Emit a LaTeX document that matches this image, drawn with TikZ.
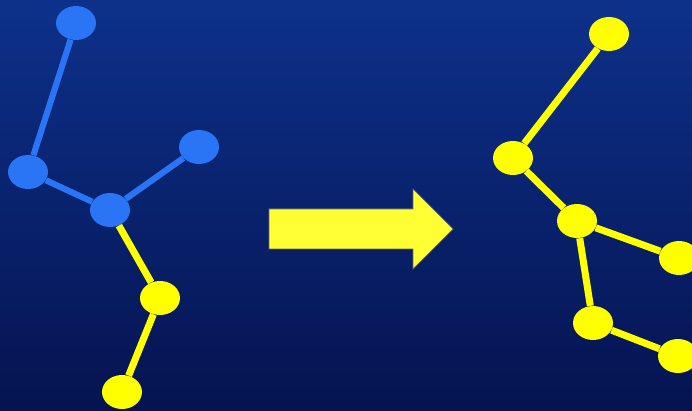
\documentclass[tikz,border=0pt]{standalone}
\usepackage{xcolor}
\usepackage{tikz}
\usetikzlibrary{shapes.geometric, arrows, positioning}
\definecolor{bgtop}{RGB}{13,49,138}
\definecolor{bgbot}{RGB}{5,19,80}
\definecolor{atomblue}{RGB}{42,116,246}
\definecolor{atomyellow}{RGB}{255,255,0}
\definecolor{arrowyellow}{RGB}{255,255,51}
\tikzstyle{blueatom} = [ellipse, minimum width=0.8cm, minimum height=0.68cm, inner sep=0pt, fill=atomblue]
\tikzstyle{yellowatom} = [ellipse, minimum width=0.8cm, minimum height=0.68cm, inner sep=0pt, fill=atomyellow]
\tikzstyle{bluebond} = [line width=3.5pt, draw=atomblue]
\tikzstyle{yellowbond} = [line width=4pt, draw=atomyellow]
\tikzstyle{bigarrow} = [fill=arrowyellow, draw=black!60, line width=0.4pt]

\begin{document}
\begin{tikzpicture}[x=0.02cm, y=-0.02cm]
            % background
            \shade[top color=bgtop, bottom color=bgbot] (0,0) rectangle (692,411);
            \useasboundingbox (0,0) rectangle (692,411);

            % left molecule
            \node[blueatom] (l1) at (76,23) {};
            \node[blueatom] (l2) at (28,172) {};
            \node[blueatom] (l3) at (110,210) {};
            \node[blueatom] (l4) at (199,147) {};
            \node[yellowatom] (l5) at (160,298) {};
            \node[yellowatom] (l6) at (122,392) {};

            \draw[bluebond] (l1) -- (l2);
            \draw[bluebond] (l2) -- (l3);
            \draw[bluebond] (l3) -- (l4);
            \draw[yellowbond] (l3) -- (l5);
            \draw[yellowbond] (l5) -- (l6);

            % arrow
            \draw[bigarrow] (269,209) -- (413,209) -- (413,189) -- (453,229)
                -- (413,269) -- (413,249) -- (269,249) -- cycle;

            % right molecule
            \node[yellowatom] (r1) at (609,34) {};
            \node[yellowatom] (r2) at (513,158) {};
            \node[yellowatom] (r3) at (577,221) {};
            \node[yellowatom] (r4) at (679,258) {};
            \node[yellowatom] (r5) at (593,323) {};
            \node[yellowatom] (r6) at (678,356) {};

            \draw[yellowbond] (r1) -- (r2);
            \draw[yellowbond] (r2) -- (r3);
            \draw[yellowbond] (r3) -- (r4);
            \draw[yellowbond] (r3) -- (r5);
            \draw[yellowbond] (r5) -- (r6);
        \end{tikzpicture}
\end{document}
